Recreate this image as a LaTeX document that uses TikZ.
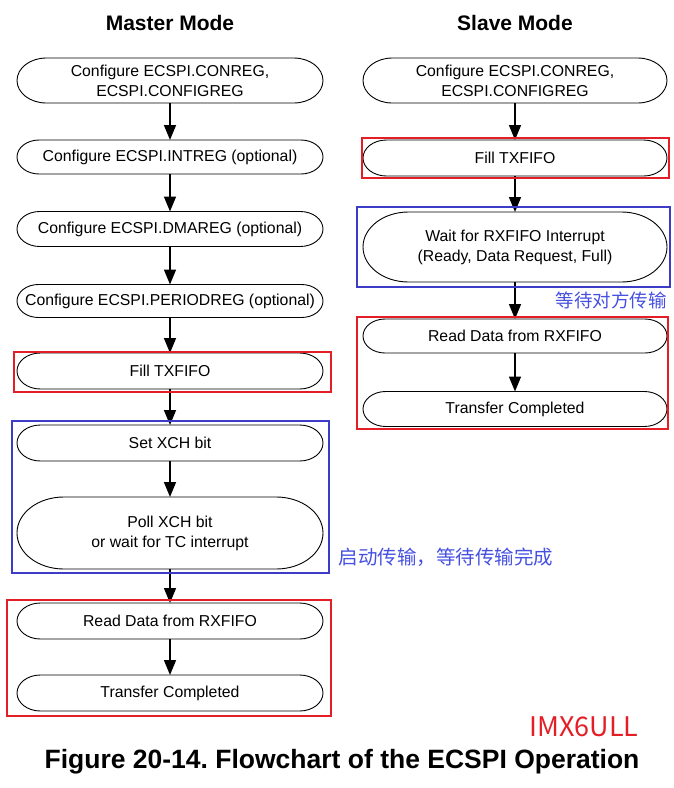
\documentclass[tikz,border=0pt]{standalone}
\usepackage{fontspec}
\setmainfont{Liberation Sans}
\newfontfamily\cjk{Noto Sans CJK SC}
\usetikzlibrary{arrows.meta,calc}
\frenchspacing
\definecolor{boxred}{RGB}{228,30,38}
\definecolor{boxblue}{RGB}{60,60,200}
\definecolor{cnblue}{RGB}{70,80,225}
\tikzset{
  txt/.style={inner sep=0pt, outer sep=0pt, align=center, font=\fontsize{15.8}{20}\selectfont},
  nodeline/.style={draw=black, line width=0.9pt},
  flow/.style={line width=1.6pt, -{Triangle[width=12pt,length=15pt]}},
  redbox/.style={draw=boxred, line width=1.6pt},
  bluebox/.style={draw=boxblue, line width=1.6pt},
}
\newcommand\capnode[6]{%
  \node[txt, minimum width=#4pt, minimum height=#5pt] (#1) at (#2,-#3) {#6};
  \draw[nodeline] ([xshift={0.65*#5pt}]#1.north west) -- ([xshift={-0.65*#5pt}]#1.north east)
    arc[start angle=90,end angle=-90,x radius={0.65*#5pt},y radius={#5pt/2}]
    -- ([xshift={0.65*#5pt}]#1.south west)
    arc[start angle=270,end angle=90,x radius={0.65*#5pt},y radius={#5pt/2}] -- cycle;}
\begin{document}
\begin{tikzpicture}[x=1pt,y=1pt]
\useasboundingbox (0,0) rectangle (674,-788);
% titles
\node[font=\fontsize{21}{24}\selectfont\bfseries] (tm) at (170,-23) {Master Mode};
\node[font=\fontsize{21}{24}\selectfont\bfseries] (ts) at (515,-23) {Slave Mode};
% left column
\capnode{m1}{170}{80.5}{306}{45}{Configure ECSPI.CONREG,\\ECSPI.CONFIGREG}
\capnode{m2}{170}{157}{306}{34}{Configure ECSPI.INTREG (optional)}
\capnode{m3}{170}{229}{306}{35}{Configure ECSPI.DMAREG (optional)}
\capnode{m4}{170}{301}{306}{33}{Configure ECSPI.PERIODREG (optional)}
\capnode{m5}{170}{371}{306}{36}{Fill TXFIFO}
\capnode{m6}{170}{443}{306}{36}{Set XCH bit}
\capnode{m7}{170}{533}{306}{72}{Poll XCH bit\\or wait for TC interrupt}
\capnode{m8}{170}{621}{306}{36}{Read Data from RXFIFO}
\capnode{m9}{170}{693}{306}{36}{Transfer Completed}
\draw[flow] (m1.south) -- (m2.north);
\draw[flow] (m2.south) -- (m3.north);
\draw[flow] (m3.south) -- (m4.north);
\draw[flow] (m4.south) -- (m5.north);
\draw[flow] (m5.south) -- (m6.north);
\draw[flow] (m6.south) -- (m7.north);
\draw[flow] (m7.south) -- (m8.north);
\draw[flow] (m8.south) -- (m9.north);
\draw[redbox] (14,-352) rectangle (331,-392);
\draw[bluebox] (12,-421) rectangle (329,-573);
\draw[redbox] (7,-600) rectangle (331,-716);
\node[anchor=west, text=cnblue, font=\cjk\fontsize{19.5}{21}\selectfont] (lm) at (335,-557) {启动传输，等待传输完成};
% right column
\capnode{s1}{515}{80.5}{304}{45}{Configure ECSPI.CONREG,\\ECSPI.CONFIGREG}
\capnode{s2}{515}{158}{304}{36}{Fill TXFIFO}
\capnode{s3}{515}{247}{304}{70}{Wait for RXFIFO Interrupt\\(Ready, Data Request, Full)}
\capnode{s4}{515}{336}{304}{34}{Read Data from RXFIFO}
\capnode{s5}{515}{409}{304}{35}{Transfer Completed}
\draw[flow] (s1.south) -- (s2.north);
\draw[flow] (s2.south) -- (s3.north);
\draw[flow] (s3.south) -- (s4.north);
\draw[flow] (s4.south) -- (s5.north);
\draw[redbox] (362,-138) rectangle (669,-178);
\draw[bluebox] (357,-207) rectangle (670,-287);
\draw[redbox] (357,-317) rectangle (668,-429);
\node[anchor=west, text=cnblue, font=\cjk\fontsize{18.5}{20}\selectfont] (ls) at (552,-300) {等待对方传输};
% footer
\node[text=boxred, font=\cjk\fontsize{27}{29}\selectfont] (imx) at (584,-727) {IMX6ULL};
\node[font=\fontsize{26.5}{29}\selectfont\bfseries] (cap) at (342,-762) {Figure 20-14. Flowchart of the ECSPI Operation};
\end{tikzpicture}
\end{document}
